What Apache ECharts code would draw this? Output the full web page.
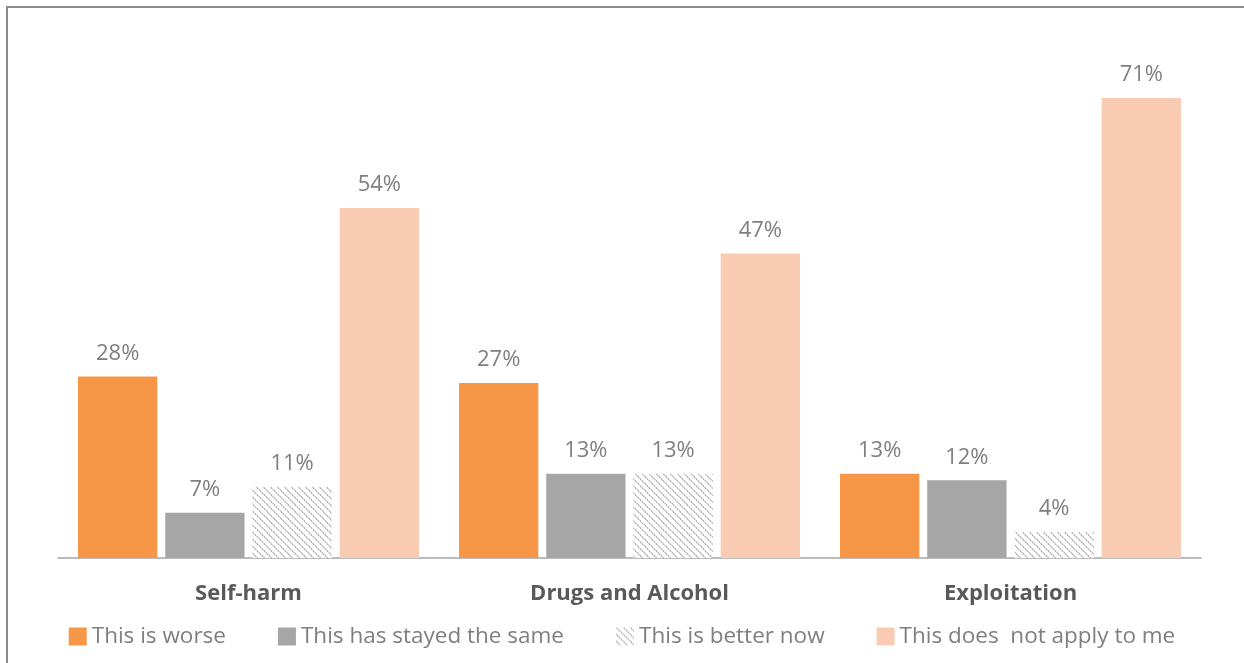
<!DOCTYPE html>
<html>
<head>
<meta charset="utf-8">
<script src="https://cdn.jsdelivr.net/npm/echarts@6/dist/echarts.min.js"></script>
<style>
  html, body { margin: 0; padding: 0; background: #fff; }
  #chart { width: 1244px; height: 663px; }
</style>
</head>
<body>
<div id="chart"></div>
<script>
const categories = ['Self-harm', 'Drugs and Alcohol', 'Exploitation'];
const seriesNames = ['This is worse', 'This has stayed the same', 'This is better now', 'This does  not apply to me'];
const worse = [28, 27, 13];
const same = [7, 13, 12];
const better = [11, 13, 4];
const notApply = [54, 47, 71];

// diagonal hatch used for "better now"
function makeHatch() {
  const c = document.createElement('canvas');
  c.width = 7;
  c.height = 7;
  const ctx = c.getContext('2d');
  ctx.fillStyle = '#ffffff';
  ctx.fillRect(0, 0, 7, 7);
  for (let i = 0; i < 7; i++) {
    ctx.fillStyle = i % 2 ? '#b0b0b0' : '#d4d4d4';
    ctx.fillRect(i, i, 1, 1);
    ctx.fillStyle = i % 2 ? '#e0e0e0' : '#bdbdbd';
    ctx.fillRect((i + 1) % 7, i, 1, 1);
  }
  return c;
}

const chart = echarts.init(document.getElementById('chart'), null, { renderer: 'canvas' });

const labelStyle = {
  show: true,
  position: 'top',
  distance: 12,
  formatter: '{c}%',
  color: '#7f7f7f',
  fontSize: 22,
  fontFamily: 'Open Sans'
};

function bar(name, data, color) {
  return {
    name: name,
    type: 'bar',
    data: data,
    barGap: '10%',
    barCategoryGap: '10.5%',
    itemStyle: { color: color },
    label: labelStyle,
    emphasis: { disabled: true }
  };
}

chart.setOption({
  animation: false,
  graphic: [{
    type: 'rect',
    shape: { x: 7, y: 7, width: 1245, height: 665 },
    style: { fill: 'none', stroke: '#8c8c8c', lineWidth: 2 },
    silent: true
  }],
  grid: { left: 58, right: 43, top: 39.6, bottom: 105 },
  legend: {
    bottom: 10,
    left: 'center',
    itemWidth: 18,
    itemHeight: 18,
    itemGap: 52,
    icon: 'rect',
    textStyle: { color: '#7f7f7f', fontSize: 22.5, fontFamily: 'Open Sans' },
    data: seriesNames
  },
  xAxis: {
    type: 'category',
    data: categories,
    axisLine: { lineStyle: { color: '#a6a6a6', width: 1.5 } },
    axisTick: { show: false },
    axisLabel: {
      color: '#595959',
      fontSize: 22,
      fontWeight: 'bold',
      fontFamily: 'Open Sans',
      margin: 25
    }
  },
  yAxis: {
    type: 'value',
    min: 0,
    max: 80,
    show: false,
    splitLine: { show: false }
  },
  series: [
    bar(seriesNames[0], worse, '#f79646'),
    bar(seriesNames[1], same, '#a6a6a6'),
    bar(seriesNames[2], better, { image: makeHatch(), repeat: 'repeat' }),
    bar(seriesNames[3], notApply, '#f8cbb2')
  ]
});
</script>
</body>
</html>
